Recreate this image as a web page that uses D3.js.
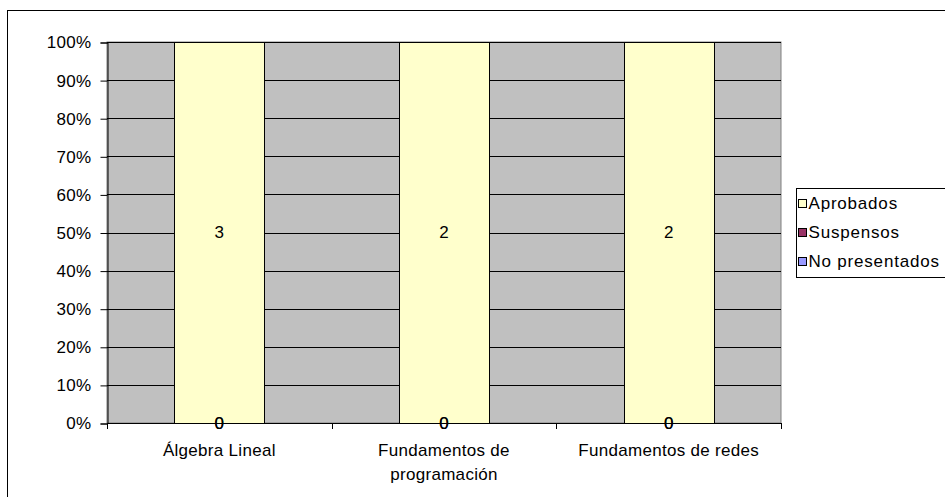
<!DOCTYPE html>
<html>
<head>
<meta charset="utf-8">
<script src="https://cdn.jsdelivr.net/npm/d3@7"></script>
<style>
body{margin:0;background:#fff;}
svg{display:block;font-family:"Liberation Sans",Arial,sans-serif;}
</style>
</head>
<body>
<svg id="chart" width="945" height="497"></svg>
<script>
// datos
var asignaturas = ["Álgebra Lineal", "Fundamentos de programación", "Fundamentos de redes"];
var aprobados = [3, 2, 2];
var suspensos = [0, 0, 0];
var noPresentados = [0, 0, 0];
var seriesNames = ["Aprobados", "Suspensos", "No presentados"];
var seriesColors = ["#FFFFCC", "#993366", "#9999FF"];
var yTicks = [0, 0.1, 0.2, 0.3, 0.4, 0.5, 0.6, 0.7, 0.8, 0.9, 1];

var W = 945, H = 497;
var pl = 107, pr = 781, pt = 42, pb = 423;
var fs = 17;

var svg = d3.select("#chart");

// borde exterior
svg.append("rect")
	.attr("x", 7.5).attr("y", 10.5)
	.attr("width", W).attr("height", H)
	.attr("fill", "#fff").attr("stroke", "#000");

var filas = asignaturas.map(function(c, i){
	return {cat: c, "Aprobados": aprobados[i], "Suspensos": suspensos[i], "No presentados": noPresentados[i]};
});

// orden de apilado: No presentados abajo, Aprobados arriba
var stack = d3.stack()
	.keys(["No presentados", "Suspensos", "Aprobados"])
	.offset(d3.stackOffsetExpand);
var capas = stack(filas);

var x = d3.scaleBand().domain(asignaturas).range([pl, pr]).paddingInner(0.6).paddingOuter(0.3);
var xb = d3.scaleBand().domain(asignaturas).range([pl, pr]);
var y = d3.scaleLinear().domain([0, 1]).range([pb, pt]);

// fondo del área de trazado
svg.append("rect")
	.attr("x", pl).attr("y", pt)
	.attr("width", pr - pl).attr("height", pb - pt)
	.attr("fill", "#C0C0C0").attr("stroke", "#808080");

// líneas de división
svg.append("g").selectAll("line")
	.data(yTicks.slice(1))
	.enter().append("line")
	.attr("x1", pl).attr("x2", pr)
	.attr("y1", function(d){ return Math.round(y(d)) + 0.5; })
	.attr("y2", function(d){ return Math.round(y(d)) + 0.5; })
	.attr("stroke", "#000");

// barras
var color = function(k){ return seriesColors[seriesNames.indexOf(k)]; };
svg.append("g").selectAll("g")
	.data(capas)
	.enter().append("g")
	.attr("fill", function(d){ return color(d.key); })
	.selectAll("rect")
	.data(function(d){ return d; })
	.enter().append("rect")
	.attr("x", function(d){ return Math.round(x(d.data.cat)) + 0.5; })
	.attr("width", Math.round(x.bandwidth()))
	.attr("y", function(d){ return Math.round(y(d[1])) + 0.5; })
	.attr("height", function(d){ return Math.round(y(d[0])) - Math.round(y(d[1])); })
	.attr("stroke", "#000");

// ejes
var ejeY = d3.axisLeft(y).tickValues(yTicks).tickSize(7).tickPadding(9)
	.tickFormat(d3.format(".0%"));
var gy = svg.append("g").attr("transform", "translate(" + (pl + 0.5) + ",0.5)").call(ejeY);
gy.select(".domain").attr("stroke", "#000");
gy.selectAll("text").attr("font-size", fs).attr("letter-spacing", "0.3px")
	.attr("font-family", "Liberation Sans, Arial, sans-serif").attr("fill", "#000");

svg.append("line")
	.attr("x1", pl).attr("x2", pr)
	.attr("y1", pb + 0.5).attr("y2", pb + 0.5)
	.attr("stroke", "#000");

var bordes = asignaturas.map(function(c){ return xb(c); }).concat([pr]);
svg.append("g").selectAll("line")
	.data(bordes)
	.enter().append("line")
	.attr("x1", function(d){ return Math.round(d) + 0.5; })
	.attr("x2", function(d){ return Math.round(d) + 0.5; })
	.attr("y1", pb).attr("y2", pb + 6)
	.attr("stroke", "#000");

// etiquetas de categoría con ajuste de línea
var catText = svg.append("g").selectAll("text")
	.data(asignaturas)
	.enter().append("text")
	.attr("x", function(d){ return xb(d) + xb.bandwidth() / 2; })
	.attr("y", 456)
	.attr("text-anchor", "middle")
	.attr("font-size", fs).attr("letter-spacing", "0.3px")
	.attr("fill", "#000");

catText.each(function(d){
	var t = d3.select(this), cx = t.attr("x");
	var palabras = d.split(" "), linea = [];
	var ts = t.append("tspan").attr("x", cx);
	palabras.forEach(function(p){
		linea.push(p);
		ts.text(linea.join(" "));
		if(ts.node().getComputedTextLength() > xb.bandwidth() - 10 && linea.length > 1){
			linea.pop();
			ts.text(linea.join(" "));
			linea = [p];
			ts = t.append("tspan").attr("x", cx).attr("dy", 24).text(p);
		}
	});
});

// etiquetas de datos
svg.append("g").selectAll("g")
	.data(capas)
	.enter().append("g")
	.selectAll("text")
	.data(function(d){ return d.map(function(v, i){ return {v: v, val: filas[i][d.key]}; }); })
	.enter().append("text")
	.attr("x", function(d){ return x(d.v.data.cat) + x.bandwidth() / 2; })
	.attr("y", function(d){ return y((d.v[0] + d.v[1]) / 2); })
	.attr("dy", "0.35em")
	.attr("text-anchor", "middle")
	.attr("font-size", fs)
	.attr("fill", "#000")
	.text(function(d){ return d.val; });

// leyenda
var lg = svg.append("g").attr("transform", "translate(796.5,188.5)");
lg.append("rect").attr("width", 200).attr("height", 89)
	.attr("fill", "#fff").attr("stroke", "#000");
var items = lg.selectAll("g.item")
	.data(seriesNames)
	.enter().append("g")
	.attr("class", "item")
	.attr("transform", function(d, i){ return "translate(0," + (15 + i * 29) + ")"; });
items.append("rect")
	.attr("x", 2).attr("y", -4)
	.attr("width", 8).attr("height", 8)
	.attr("fill", function(d, i){ return seriesColors[i]; })
	.attr("stroke", "#000");
items.append("text")
	.attr("x", 12).attr("dy", "0.35em")
	.attr("font-size", fs).attr("letter-spacing", "0.8px")
	.attr("fill", "#000")
	.text(function(d){ return d; });
</script>
</body>
</html>
